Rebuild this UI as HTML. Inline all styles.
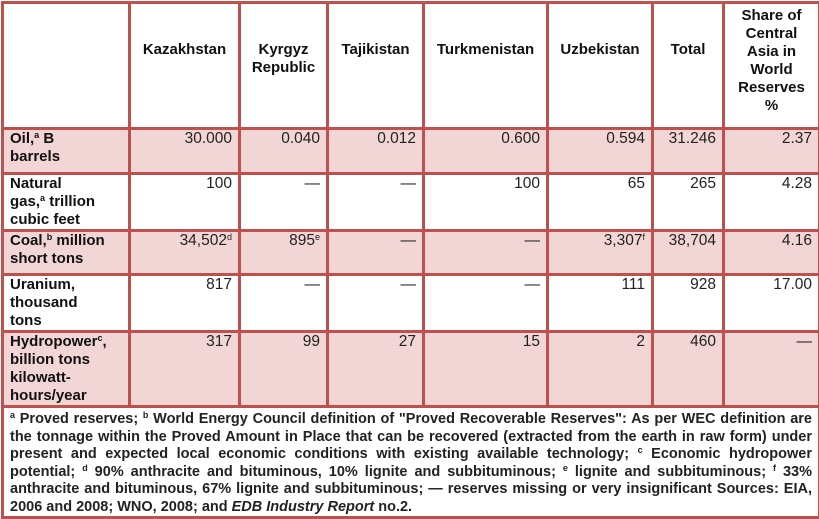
<!DOCTYPE html>
<html><head><meta charset="utf-8">
<style>
html,body{margin:0;padding:0;background:#fff;}
body{width:819px;height:515px;overflow:hidden;font-family:"Liberation Sans",Arial,sans-serif;}
table{position:absolute;left:1px;top:1px;border-collapse:collapse;table-layout:fixed;width:817px;}
td{border:3px solid #c0504d;padding:0 6px;vertical-align:top;font-size:15.5px;line-height:18px;color:#222;text-align:right;overflow:hidden;white-space:nowrap;}
td.lab{text-align:left;font-weight:bold;font-size:15px;line-height:18px;color:#111;}
tr.h td{font-weight:bold;font-size:15px;text-align:center;padding-top:37px;color:#111;white-space:normal;}
tr.h td.share{padding-top:3px;}
tr.pink td{background:#f2d5d5;}
sup{font-size:9px;line-height:0;vertical-align:5px;}
td.foot{text-align:justify;font-weight:bold;font-size:14.5px;line-height:17.5px;padding:3px 6px 0 6px;white-space:normal;}
</style></head>
<body>
<table>
<colgroup><col style="width:127px"><col style="width:110px"><col style="width:88px"><col style="width:96px"><col style="width:124px"><col style="width:105px"><col style="width:71px"><col style="width:96px"></colgroup>
<tr class="h" style="height:126px">
<td></td>
<td>Kazakhstan</td>
<td>Kyrgyz Republic</td>
<td>Tajikistan</td>
<td>Turkmenistan</td>
<td>Uzbekistan</td>
<td>Total</td>
<td class="share">Share of Central Asia in World Reserves %</td>
</tr>
<tr class="pink" style="height:45px">
<td class="lab">Oil,<sup>a</sup> B<br>barrels</td>
<td>30.000</td><td>0.040</td><td>0.012</td><td>0.600</td><td>0.594</td><td>31.246</td><td>2.37</td>
</tr>
<tr style="height:56px">
<td class="lab">Natural<br>gas,<sup>a</sup> trillion<br>cubic feet</td>
<td>100</td><td>—</td><td>—</td><td>100</td><td>65</td><td>265</td><td>4.28</td>
</tr>
<tr class="pink" style="height:44px">
<td class="lab">Coal,<sup>b</sup> million<br>short tons</td>
<td>34,502<sup>d</sup></td><td>895<sup>e</sup></td><td>—</td><td>—</td><td>3,307<sup>f</sup></td><td>38,704</td><td>4.16</td>
</tr>
<tr style="height:57px">
<td class="lab">Uranium,<br>thousand<br>tons</td>
<td>817</td><td>—</td><td>—</td><td>—</td><td>111</td><td>928</td><td>17.00</td>
</tr>
<tr class="pink" style="height:73px">
<td class="lab">Hydropower<sup>c</sup>,<br>billion tons<br>kilowatt-<br>hours/year</td>
<td>317</td><td>99</td><td>27</td><td>15</td><td>2</td><td>460</td><td>—</td>
</tr>
<tr style="height:106px">
<td colspan="8" class="foot"><sup>a</sup> Proved reserves; <sup>b</sup> World Energy Council definition of "Proved Recoverable Reserves": As per WEC definition are the tonnage within the Proved Amount in Place that can be recovered (extracted from the earth in raw form) under present and expected local economic conditions with existing available technology; <sup>c</sup> Economic hydropower potential; <sup>d</sup> 90% anthracite and bituminous, 10% lignite and subbituminous; <sup>e</sup> lignite and subbituminous; <sup>f</sup> 33% anthracite and bituminous, 67% lignite and subbituminous; — reserves missing or very insignificant Sources: EIA, 2006 and 2008; WNO, 2008; and <i>EDB Industry Report</i> no.2.</td>
</tr>
</table>
</body></html>
